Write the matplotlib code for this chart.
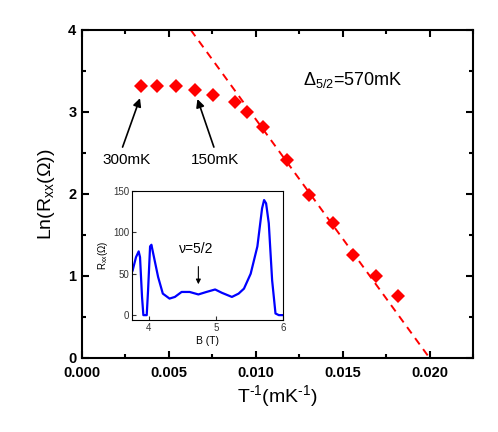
import numpy as np
import matplotlib
matplotlib.use("Agg")
import matplotlib.pyplot as plt
from matplotlib.ticker import MultipleLocator

plt.rcParams['font.family'] = ['Liberation Sans', 'DejaVu Sans']
plt.rcParams['mathtext.fontset'] = 'custom'
plt.rcParams['mathtext.rm'] = 'Liberation Sans'
plt.rcParams['mathtext.it'] = 'Liberation Sans:italic'

# main data: ln(Rxx) vs 1/T
inv_T = [0.00339, 0.00431, 0.00538, 0.00653, 0.00755, 0.00881, 0.00952,
         0.01040, 0.01180, 0.01306, 0.01446, 0.01561, 0.01691, 0.01818]
ln_R = [3.32, 3.32, 3.32, 3.27, 3.21, 3.12, 3.00,
        2.82, 2.42, 1.99, 1.65, 1.26, 1.00, 0.76]

# activation fit line
fit_x = [0.00626, 0.0200]
fit_y = [4.0, 0.0]

# inset trace Rxx(B)
B = [3.76, 3.81, 3.85, 3.87, 3.90, 3.92, 3.97, 3.99, 4.02, 4.04, 4.06, 4.14,
     4.21, 4.31, 4.39, 4.49, 4.61, 4.74, 4.86, 4.99, 5.09, 5.24, 5.34, 5.42,
     5.52, 5.62, 5.69, 5.72, 5.75, 5.79, 5.84, 5.89, 5.94, 5.99]
Rxx = [54, 70, 77, 70, 22, 0, 0, 30, 83, 85, 77, 46,
       26, 20, 22, 28, 28, 25, 28, 31, 27, 22, 26, 32,
       50, 83, 129, 139, 135, 111, 42, 2, 0, 0]

fig = plt.figure(figsize=(4.98, 4.32), dpi=100)
ax = fig.add_axes([0.1647, 0.1713, 0.7851, 0.7593])

ax.plot(fit_x, fit_y, '--', color='red', lw=1.4, dashes=(4, 3))
ax.plot(inv_T, ln_R, 'D', color='red', markersize=7, markeredgewidth=0)

ax.set_xlim(0, 0.0225)
ax.set_ylim(0, 4)
ax.xaxis.set_major_locator(MultipleLocator(0.005))
ax.xaxis.set_minor_locator(MultipleLocator(0.0025))
ax.yaxis.set_major_locator(MultipleLocator(1))
ax.yaxis.set_minor_locator(MultipleLocator(0.5))
ax.xaxis.set_major_formatter(plt.FuncFormatter(lambda v, p: f"{v:.3f}"))
ax.tick_params(which='both', direction='in', top=True, right=True, width=1.5)
ax.tick_params(which='major', length=5, labelsize=10.5)
ax.tick_params(axis='x', which='major', pad=6)
ax.tick_params(axis='y', which='major', pad=4)
ax.tick_params(which='minor', length=3)
for lab in ax.get_xticklabels() + ax.get_yticklabels():
    lab.set_fontweight('bold')
for s in ax.spines.values():
    s.set_linewidth(1.5)

ax.set_xlabel('T$^{\u2010\\mathrm{1}}$(mK$^{\u2010\\mathrm{1}}$)', fontsize=14, labelpad=2)
ax.set_ylabel(r'Ln(R$_{\mathrm{xx}}$($\Omega$))', fontsize=14, labelpad=8)

ax.text(0.0127, 3.39, r'$\Delta_{\mathit{5/2}}$=570mK', fontsize=13, va='center', ha='left')

ax.annotate('', xy=(0.00339, 3.20), xytext=(0.00228, 2.54),
            arrowprops=dict(arrowstyle='-|>', color='black', lw=1.2, mutation_scale=12))
ax.text(0.00259, 2.41, '300mK', fontsize=11, ha='center', va='center')
ax.annotate('', xy=(0.00659, 3.19), xytext=(0.00764, 2.54),
            arrowprops=dict(arrowstyle='-|>', color='black', lw=1.2, mutation_scale=12))
ax.text(0.00764, 2.41, '150mK', fontsize=11, ha='center', va='center')

# inset
ins = fig.add_axes([0.265, 0.259, 0.303, 0.299])
ins.plot(B, Rxx, color='blue', lw=1.6)
ins.set_xlim(3.75, 6.0)
ins.set_ylim(-6, 150)
ins.set_xticks([4, 5, 6])
ins.set_yticks([0, 50, 100, 150])
ins.tick_params(direction='in', labelsize=7, length=3, pad=2, colors='#333333')
ins.set_xlabel('B (T)', fontsize=7.5, labelpad=2)
ins.set_ylabel(r'R$_{\mathrm{xx}}$($\Omega$)', fontsize=7, labelpad=2)
ins.annotate('', xy=(4.74, 34), xytext=(4.74, 62),
             arrowprops=dict(arrowstyle='-|>', color='black', lw=0.8, mutation_scale=7))
ins.text(4.71, 80, '\u03bd=5/2', fontsize=10, ha='center', va='center')

fig.savefig('out.png', dpi=100)
